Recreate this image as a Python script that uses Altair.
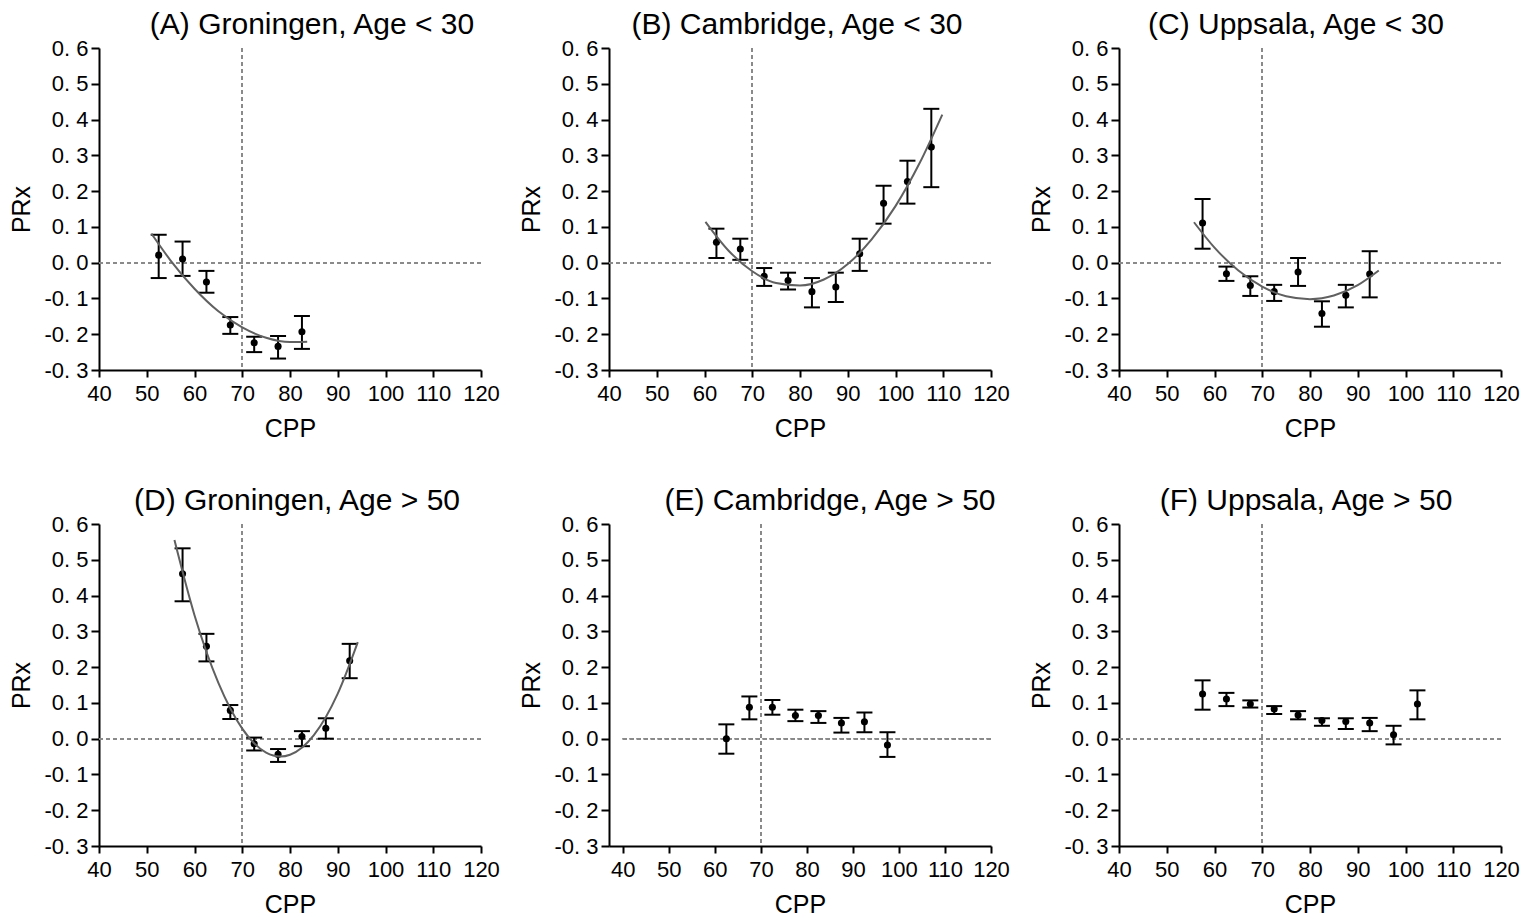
import altair as alt
import pandas as pd

# ---------------- data ----------------
A_x = [52.5, 57.5, 62.5, 67.5, 72.5, 77.5, 82.5]
A_y = [0.021, 0.010, -0.054, -0.174, -0.224, -0.234, -0.193]
A_lo = [-0.043, -0.037, -0.084, -0.199, -0.250, -0.268, -0.241]
A_hi = [0.078, 0.059, -0.023, -0.152, -0.207, -0.205, -0.149]
A_cx = [51.0, 55.0, 60.0, 65.0, 70.0, 75.0, 80.0, 83.6]
A_cy = [0.081, 0.006, -0.073, -0.136, -0.181, -0.210, -0.222, -0.221]

B_x = [62.5, 67.5, 72.5, 77.5, 82.5, 87.5, 92.5, 97.5, 102.5, 107.5]
B_y = [0.057, 0.038, -0.038, -0.050, -0.081, -0.068, 0.025, 0.166, 0.227, 0.323]
B_lo = [0.013, 0.008, -0.065, -0.075, -0.125, -0.110, -0.023, 0.109, 0.165, 0.211]
B_hi = [0.095, 0.067, -0.015, -0.028, -0.043, -0.028, 0.067, 0.215, 0.285, 0.430]
B_cx = [60.2, 65.0, 70.0, 75.0, 80.0, 85.0, 90.0, 95.0, 100.0, 105.0, 109.8]
B_cy = [0.114, 0.034, -0.024, -0.057, -0.064, -0.047, -0.004, 0.065, 0.158, 0.277, 0.414]

C_x = [57.5, 62.5, 67.5, 72.5, 77.5, 82.5, 87.5, 92.5]
C_y = [0.111, -0.031, -0.064, -0.081, -0.026, -0.142, -0.091, -0.032]
C_lo = [0.039, -0.051, -0.093, -0.107, -0.065, -0.179, -0.125, -0.097]
C_hi = [0.178, -0.011, -0.038, -0.062, 0.013, -0.108, -0.062, 0.032]
C_cx = [55.7, 60.0, 65.0, 70.0, 75.0, 80.0, 85.0, 90.0, 94.4]
C_cy = [0.113, 0.042, -0.022, -0.067, -0.094, -0.102, -0.092, -0.063, -0.022]

D_x = [57.5, 62.5, 67.5, 72.5, 77.5, 82.5, 87.5, 92.5]
D_y = [0.461, 0.258, 0.079, -0.014, -0.044, 0.006, 0.029, 0.218]
D_lo = [0.384, 0.216, 0.055, -0.033, -0.065, -0.021, 0.000, 0.169]
D_hi = [0.532, 0.293, 0.094, 0.003, -0.029, 0.021, 0.057, 0.265]
D_cx = [55.8, 60.0, 65.0, 70.0, 75.0, 78.0, 80.0, 85.0, 90.0, 94.2]
D_cy = [0.555, 0.345, 0.156, 0.028, -0.039, -0.050, -0.045, 0.010, 0.126, 0.270]

E_x = [62.5, 67.5, 72.5, 77.5, 82.5, 87.5, 92.5, 97.5]
E_y = [0.000, 0.088, 0.088, 0.065, 0.065, 0.044, 0.047, -0.018]
E_lo = [-0.042, 0.054, 0.067, 0.049, 0.044, 0.017, 0.018, -0.051]
E_hi = [0.040, 0.118, 0.108, 0.081, 0.077, 0.058, 0.073, 0.018]

F_x = [57.5, 62.5, 67.5, 72.5, 77.5, 82.5, 87.5, 92.5, 97.5, 102.5]
F_y = [0.125, 0.111, 0.097, 0.083, 0.066, 0.051, 0.048, 0.044, 0.011, 0.097]
F_lo = [0.081, 0.091, 0.087, 0.069, 0.054, 0.036, 0.027, 0.021, -0.016, 0.054]
F_hi = [0.163, 0.128, 0.107, 0.091, 0.077, 0.057, 0.057, 0.058, 0.036, 0.135]

TITLES = ["(A) Groningen, Age < 30", "(B) Cambridge, Age < 30", "(C) Uppsala, Age < 30",
          "(D) Groningen, Age > 50", "(E) Cambridge, Age > 50", "(F) Uppsala, Age > 50"]
X_TICKS = [40, 50, 60, 70, 80, 90, 100, 110, 120]
Y_TICKS = [-0.3, -0.2, -0.1, 0.0, 0.1, 0.2, 0.3, 0.4, 0.5, 0.6]

FONT = "Liberation Sans"
W, H = 382, 322


def panel(title, xs, ys, los, his, cx=None, cy=None, xdom=(40, 120), tdx=0):
    df = pd.DataFrame({"x": xs, "y": ys, "lo": los, "hi": his})
    xscale = alt.Scale(domain=list(xdom), nice=False, zero=False)
    yscale = alt.Scale(domain=[-0.3, 0.6], nice=False, zero=False)
    xaxis = alt.Axis(values=X_TICKS, tickCount=20, title="CPP", labelOverlap=False)
    yaxis = alt.Axis(values=Y_TICKS, tickCount=20, title="PRx", labelOverlap=False,
                     labelExpr="(datum.value < -0.001 ? '-' : '') + replace(format(abs(datum.value), '.1f'), '.', '. ')")

    base = alt.Chart(df)
    vline = alt.Chart(df).mark_rule(color="#8a8a8a", strokeDash=[4, 3], strokeWidth=1.5).encode(
        x=alt.datum(70, scale=xscale, axis=xaxis, type="quantitative"))
    hline = alt.Chart(df).mark_rule(color="#8a8a8a", strokeDash=[4, 3], strokeWidth=1.5).encode(
        y=alt.datum(0, scale=yscale, axis=yaxis, type="quantitative"),
        x=alt.datum(40), x2=alt.datum(120))
    bars = base.mark_rule(color="black", strokeWidth=2).encode(
        x=alt.X("x:Q", scale=xscale, axis=xaxis),
        y=alt.Y("lo:Q", scale=yscale, axis=yaxis), y2="hi:Q")
    cap_lo = base.mark_tick(color="black", orient="horizontal", size=16, thickness=2, opacity=1).encode(
        x="x:Q", y="lo:Q")
    cap_hi = base.mark_tick(color="black", orient="horizontal", size=16, thickness=2, opacity=1).encode(
        x="x:Q", y="hi:Q")
    pts = base.mark_circle(color="black", size=50, opacity=1).encode(x="x:Q", y="y:Q")
    layers = [vline, hline, bars, cap_lo, cap_hi, pts]
    if cx is not None:
        cdf = pd.DataFrame({"cx": cx, "cy": cy})
        fit = alt.Chart(cdf).mark_line(color="#606060", strokeWidth=2, interpolate="monotone").encode(
            x="cx:Q", y="cy:Q")
        layers.append(fit)
    return alt.layer(*layers).properties(
        width=W, height=H,
        title=alt.TitleParams(title, fontSize=30, font=FONT, fontWeight="normal", anchor="middle",
                              frame="group", dx=tdx, offset=-3, color="black"))


pA = panel(TITLES[0], A_x, A_y, A_lo, A_hi, A_cx, A_cy, tdx=22)
pB = panel(TITLES[1], B_x, B_y, B_lo, B_hi, B_cx, B_cy, tdx=-3)
pC = panel(TITLES[2], C_x, C_y, C_lo, C_hi, C_cx, C_cy, tdx=-14)
pD = panel(TITLES[3], D_x, D_y, D_lo, D_hi, D_cx, D_cy, tdx=7)
pE = panel(TITLES[4], E_x, E_y, E_lo, E_hi, xdom=(37, 120), tdx=30)
pF = panel(TITLES[5], F_x, F_y, F_lo, F_hi, tdx=-4)

row1 = alt.hconcat(pA, pB, pC, spacing=19)
row2 = alt.hconcat(pD, pE, pF, spacing=19)
chart = alt.vconcat(row1, row2, spacing=45).properties(
    padding={"left": 1, "top": 2, "right": 0, "bottom": 0}
).configure_view(stroke=None).configure_axis(
    grid=False, domainColor="black", domainWidth=2, tickColor="black", tickWidth=2, tickSize=8,
    labelFont=FONT, labelFontSize=22, labelColor="black", labelPadding=3,
    titleFont=FONT, titleFontSize=25, titleFontWeight="normal", titleColor="black",
    titlePadding=8, labelFlush=False
).configure_axisX(labelPadding=6, tickSize=7, titlePadding=12).configure_axisY(titlePadding=9)

chart.save("out.html", embed_options={"renderer": "svg", "actions": False})
